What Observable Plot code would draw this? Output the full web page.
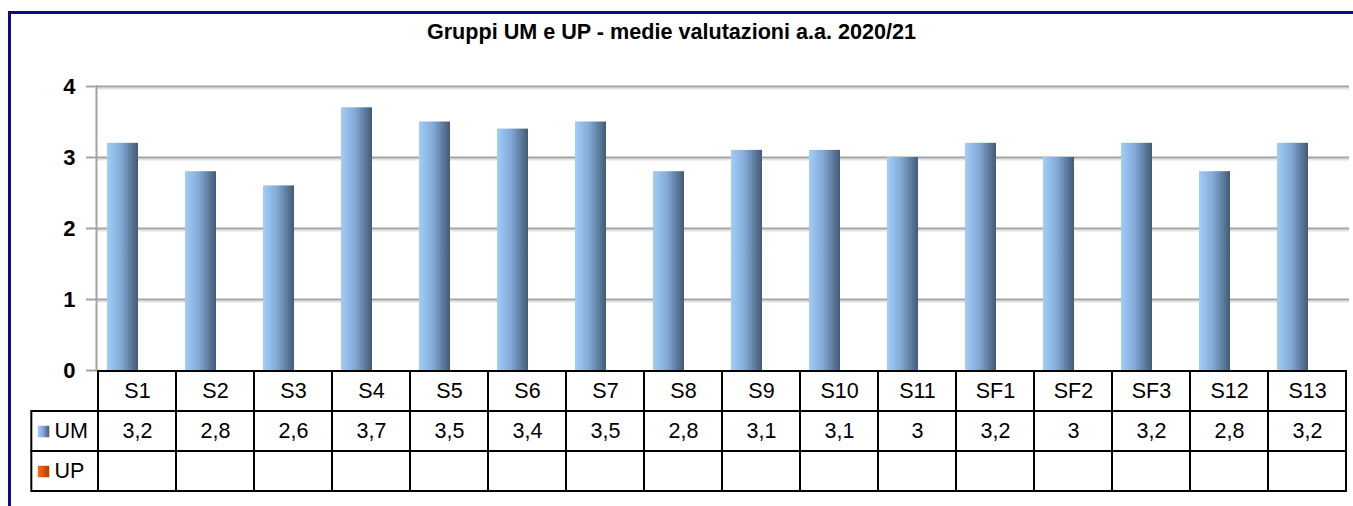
<!DOCTYPE html>
<html>
<head>
<meta charset="utf-8">
<script src="https://cdn.jsdelivr.net/npm/d3@7"></script>
<script src="https://cdn.jsdelivr.net/npm/@observablehq/plot@0.6"></script>
<style>
  html, body { margin: 0; padding: 0; background: #fff; }
  body { width: 1353px; height: 506px; position: relative; overflow: hidden; font-family: "Liberation Sans", Arial, sans-serif; }
  #frame { position: absolute; left: 8px; top: 11px; width: 1360px; height: 520px; border-left: 3px solid #0c0c84; border-top: 3px solid #0c0c84; }
  #title { position: absolute; left: 0; top: 19px; width: 1343px; text-align: center; font-size: 21.6px; font-weight: bold; color: #000; line-height: 26px; }
  #chart { position: absolute; left: 0; top: 0; }
  #table { position: absolute; left: 0; top: 360px; }
  svg { overflow: visible; }
</style>
</head>
<body>
<div id="frame"></div>
<div id="title">Gruppi UM e UP - medie valutazioni a.a. 2020/21</div>
<div id="chart"></div>
<div id="table"></div>
<script>
const categories = ["S1","S2","S3","S4","S5","S6","S7","S8","S9","S10","S11","SF1","SF2","SF3","S12","S13"];
const umValues = [3.2, 2.8, 2.6, 3.7, 3.5, 3.4, 3.5, 2.8, 3.1, 3.1, 3, 3.2, 3, 3.2, 2.8, 3.2];
const upValues = [null, null, null, null, null, null, null, null, null, null, null, null, null, null, null, null];
const seriesNames = ["UM", "UP"];
const yTicks = [0, 1, 2, 3, 4];

const fmt = v => v == null ? "" : String(v).replace(".", ",");
const bars = categories.map((c, i) => ({cat: c, value: umValues[i]}));

const gradDefs = `<defs>
  <linearGradient id="umGrad" x1="0" x2="1" y1="0" y2="0">
    <stop offset="0" stop-color="#a2cdf9"/>
    <stop offset="0.45" stop-color="#82aad6"/>
    <stop offset="1" stop-color="#435a75"/>
  </linearGradient>
  <linearGradient id="upGrad" x1="0" x2="1" y1="0" y2="0">
    <stop offset="0" stop-color="#ff6a1c"/>
    <stop offset="1" stop-color="#b53c00"/>
  </linearGradient>
</defs>`;

const chart = Plot.plot({
  width: 1353,
  height: 372,
  marginLeft: 96,
  marginRight: 4,
  marginTop: 86,
  marginBottom: 2,
  style: {background: "transparent", fontFamily: "Liberation Sans, Arial, sans-serif", color: "#000", overflow: "visible"},
  x: {domain: categories, padding: 0, axis: null},
  y: {domain: [0, 4], axis: null},
  marks: [
    Plot.ruleY(yTicks.filter(d => d > 0), {stroke: "#e2e2e2", strokeWidth: 2, dy: 2}),
    Plot.ruleY(yTicks.filter(d => d > 0), {stroke: "#a3a3a3", strokeWidth: 2}),
    Plot.frame({anchor: "left", stroke: "#a3a3a3", strokeWidth: 2}),
    Plot.axisY({ticks: yTicks, tickSize: 10, tickPadding: 11, stroke: "#a3a3a3", strokeWidth: 2, fontSize: 22, fontWeight: "bold", fill: "#000", label: null, tickFormat: d => String(d)}),
    Plot.barY(bars, {x: "cat", y: "value", insetLeft: 8, insetRight: 39, fill: "url(#umGrad)"})
  ]
});
chart.insertAdjacentHTML("afterbegin", gradDefs);
document.getElementById("chart").append(chart);

// data table below the chart
const tableRows = ["cat", ...seriesNames];
const legendKey = "";
const cells = [];
categories.forEach((c, i) => {
  cells.push({x: c, row: "cat", text: c});
  cells.push({x: c, row: "UM", text: fmt(umValues[i])});
  cells.push({x: c, row: "UP", text: fmt(upValues[i])});
});
const legendCells = seriesNames.map(s => ({x: legendKey, row: s, text: s, grad: s === "UM" ? "url(#umGrad)" : "url(#upGrad)"}));
const bw = (1353 - 96 - 4) / categories.length;
const legendWidth = 67;

const table = Plot.plot({
  width: 1353,
  height: 146,
  marginLeft: 96 - bw,
  marginRight: 4,
  marginTop: 10,
  marginBottom: 15,
  style: {background: "transparent", fontFamily: "Liberation Sans, Arial, sans-serif", color: "#000", overflow: "visible"},
  x: {domain: [legendKey, ...categories], padding: 0, axis: null},
  y: {domain: tableRows, padding: 0, axis: null},
  marks: [
    Plot.cell(legendCells, {x: "x", y: "row", inset: 0, insetLeft: bw - legendWidth, fill: "white", stroke: "#000", strokeWidth: 2}),
    Plot.cell(cells, {x: "x", y: "row", inset: 0, fill: "white", stroke: "#000", strokeWidth: 2}),
    Plot.text(cells, {x: "x", y: "row", text: "text", fontSize: 21.5, fill: "#000"}),
    Plot.dot(legendCells, {x: "x", y: "row", symbol: "square", r: 6.5, fill: "grad", dx: -16}),
    Plot.text(legendCells, {x: "x", y: "row", text: "text", fontSize: 21.5, fill: "#000", textAnchor: "start", dx: -5})
  ]
});
table.insertAdjacentHTML("afterbegin", gradDefs);
document.getElementById("table").append(table);
</script>
</body>
</html>
